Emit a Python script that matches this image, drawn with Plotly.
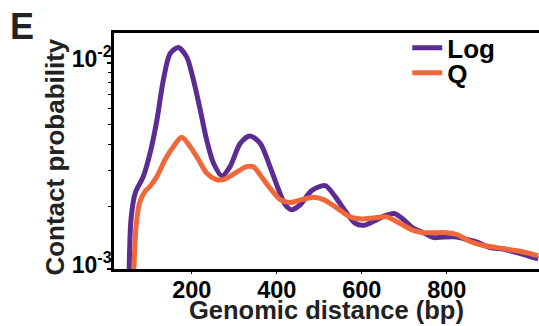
import plotly.graph_objects as go

# Genomic distance (bp) and contact probability
log_x = [52, 57, 67, 86, 102, 118, 133, 149, 168, 188, 204, 220, 235, 251, 271, 290,
         314, 337, 361, 384, 404, 420, 435, 455, 482, 514, 537, 561, 584, 604, 627,
         651, 676, 698, 721, 745, 769, 792, 824, 847, 871, 902, 933, 965, 996, 1015]
log_y = [0.00079, 0.00174, 0.00234, 0.00281, 0.00366, 0.00528, 0.00824, 0.01109,
         0.01189, 0.01069, 0.00824, 0.00590, 0.00423, 0.00327, 0.00283, 0.00314,
         0.00407, 0.00442, 0.00407, 0.00314, 0.00243, 0.00205, 0.00194, 0.00205,
         0.00240, 0.00254, 0.00225, 0.00191, 0.00167, 0.00163, 0.00170, 0.00180,
         0.00186, 0.00174, 0.00158, 0.00150, 0.00142, 0.00143, 0.00143, 0.00139,
         0.00135, 0.00127, 0.00125, 0.00120, 0.00115, 0.00112]

q_x = [62, 69, 77, 90, 102, 118, 137, 157, 176, 196, 216, 235, 259, 278, 302, 329,
       345, 361, 384, 408, 431, 459, 486, 510, 541, 572, 600, 627, 659, 686, 698,
       721, 745, 769, 800, 824, 855, 886, 918, 949, 980, 1015]
q_y = [0.00079, 0.00161, 0.00209, 0.00238, 0.00252, 0.00281, 0.00339, 0.00393,
       0.00436, 0.00393, 0.00339, 0.00292, 0.00271, 0.00273, 0.00292, 0.00314,
       0.00313, 0.00286, 0.00247, 0.00217, 0.00210, 0.00217, 0.00223, 0.00217,
       0.00198, 0.00179, 0.00175, 0.00177, 0.00179, 0.00168, 0.00163, 0.00154,
       0.00150, 0.00150, 0.00150, 0.00147, 0.00136, 0.00130, 0.00127, 0.00124,
       0.00121, 0.00116]

x_ticks = [200, 400, 600, 800]
y_major = [1e-3, 1e-2]
y_major_text = ["10<sup>-3</sup>", "10<sup>-2</sup>"]
y_minor = [2e-3, 3e-3, 4e-3, 5e-3, 6e-3, 7e-3, 8e-3, 9e-3]

PURPLE = "#5b2c92"
ORANGE = "#f0673a"
FONT = "Liberation Sans"
DARK = "#222222"

fig = go.Figure()
fig.add_trace(go.Scatter(x=log_x, y=log_y, mode="lines", name="Log", legend="legend",
                         line=dict(color=PURPLE, width=5, shape="spline", smoothing=0.8)))
fig.add_trace(go.Scatter(x=q_x, y=q_y, mode="lines", name="Q", legend="legend2",
                         line=dict(color=ORANGE, width=5, shape="spline", smoothing=0.8)))

leg_font = dict(size=26, family=FONT, weight="bold", color="black")
fig.update_layout(
    width=539, height=326,
    margin=dict(l=114, r=0, t=33, b=57),
    plot_bgcolor="white", paper_bgcolor="white",
    font=dict(family=FONT, color="black", weight="bold"),
    showlegend=True,
    legend=dict(x=0.69, y=0.937, xanchor="left", yanchor="middle", font=leg_font,
                bgcolor="rgba(0,0,0,0)", itemwidth=30),
    legend2=dict(x=0.69, y=0.831, xanchor="left", yanchor="middle", font=leg_font,
                 bgcolor="rgba(0,0,0,0)", itemwidth=30),
    xaxis=dict(range=[17, 1017], showline=True, linecolor="black", linewidth=2.5,
               mirror=True, tickmode="array", tickvals=x_ticks, ticks="outside",
               ticklen=2, tickwidth=1, tickcolor="black", showgrid=False, zeroline=False,
               ticklabelstandoff=-4,
               tickfont=dict(size=23.5, family=FONT, weight="bold", color="black")),
    yaxis=dict(type="log", range=[-3, -1.855], showline=True, linecolor="black",
               linewidth=2.5, tickmode="array", tickvals=y_major, ticktext=y_major_text,
               ticks="outside", ticklen=4, tickwidth=1.5, tickcolor="black",
               showgrid=False, zeroline=False, ticklabelstandoff=-9, ticklabelshift=-4,
               tickfont=dict(size=23, family=FONT, weight="bold", color="black"),
               minor=dict(tickmode="array", tickvals=y_minor, ticks="outside",
                          ticklen=3, tickwidth=1.2, tickcolor="black", showgrid=False)),
    annotations=[
        dict(text="E", xref="paper", yref="paper", x=-0.25, y=1.125,
             xanchor="left", yanchor="top", showarrow=False,
             font=dict(size=36, family=FONT, weight="bold", color=DARK)),
        dict(text="Contact probability", xref="paper", yref="paper", x=-0.139, y=0.476,
             xanchor="center", yanchor="middle", textangle=-90, showarrow=False,
             font=dict(size=26, family=FONT, weight="bold", color=DARK)),
        dict(text="Genomic distance (bp)", xref="paper", yref="paper", x=0.5, y=-0.175,
             xanchor="center", yanchor="middle", showarrow=False,
             font=dict(size=25.5, family=FONT, weight="bold", color=DARK)),
    ],
)
fig.write_html("out.html")
